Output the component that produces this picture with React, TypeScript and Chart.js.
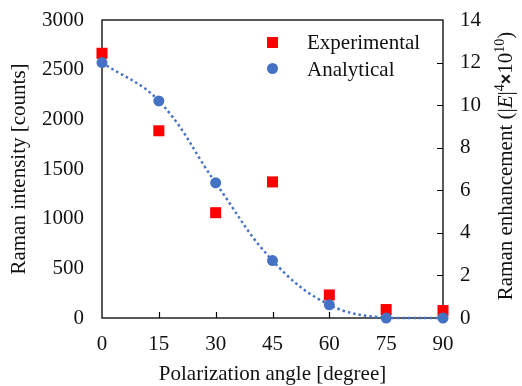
import React, { useEffect, useRef } from 'react';
import { Chart, registerables } from 'chart.js';

Chart.register(...registerables);

const angles = [0, 15, 30, 45, 60, 75, 90];
const experimental = [2665, 1885, 1060, 1370, 232, 85, 75];
const analytical = [12.0, 10.2, 6.35, 2.7, 0.62, 0.0, 0.0];
const xTickValues = [0, 15, 30, 45, 60, 75, 90];
const leftTickValues = [0, 500, 1000, 1500, 2000, 2500, 3000];
const rightTickValues = [0, 2, 4, 6, 8, 10, 12, 14];

const xTitle = 'Polarization angle [degree]';
const leftTitle = 'Raman intensity [counts]';
const legendLabels = ['Experimental', 'Analytical'];

const FONT = "'Liberation Serif', 'Times New Roman', serif";
const RED = '#ff0000';
const BLUE = '#4472c4';
const TEXT = '#111111';
const FS = 21;

const framePlugin = {
  id: 'frame',
  beforeDatasetsDraw(chart: any) {
    const { ctx, chartArea } = chart;
    const { left, right, top, bottom } = chartArea;
    ctx.save();
    ctx.strokeStyle = '#000';
    ctx.lineWidth = 1.3;
    ctx.strokeRect(left, top, right - left, bottom - top);
    const xs = chart.scales.x;
    ctx.beginPath();
    xTickValues.forEach((v) => {
      if (v === 0 || v === 90) return;
      const px = Math.round(xs.getPixelForValue(v)) + 0.5;
      ctx.moveTo(px, bottom);
      ctx.lineTo(px, bottom - 6);
    });
    const ys = chart.scales.y1;
    rightTickValues.forEach((v) => {
      if (v === 0 || v === 14) return;
      const py = Math.round(ys.getPixelForValue(v)) + 0.5;
      ctx.moveTo(right, py);
      ctx.lineTo(right - 6, py);
    });
    ctx.lineWidth = 1.2;
    ctx.stroke();
    ctx.restore();
  },
  afterDraw(chart: any) {
    const { ctx } = chart;
    ctx.save();
    ctx.fillStyle = RED;
    ctx.fillRect(267, 37, 11, 11);
    ctx.fillStyle = BLUE;
    ctx.beginPath();
    ctx.arc(272.5, 68.5, 5.5, 0, Math.PI * 2);
    ctx.fill();
    ctx.fillStyle = TEXT;
    ctx.font = `${FS}px ${FONT}`;
    ctx.textBaseline = 'alphabetic';
    ctx.textAlign = 'left';
    ctx.fillText(legendLabels[0], 307, 49);
    ctx.fillText(legendLabels[1], 307, 76);

    const segs = [
      { t: 'Raman enhancement (|', f: `${FS}px ${FONT}`, dy: 0 },
      { t: 'E', f: `italic ${FS}px ${FONT}`, dy: 0 },
      { t: '|', f: `${FS}px ${FONT}`, dy: 0 },
      { t: '4', f: `14px ${FONT}`, dy: -8 },
      { t: '×', f: `bold 18px 'Liberation Sans', sans-serif`, dy: 0 },
      { t: '10', f: `${FS}px ${FONT}`, dy: 0 },
      { t: '10', f: `14px ${FONT}`, dy: -8 },
      { t: ')', f: `${FS}px ${FONT}`, dy: 0 },
    ];
    let total = 0;
    const widths = segs.map((s) => {
      ctx.font = s.f;
      const w = ctx.measureText(s.t).width;
      total += w;
      return w;
    });
    ctx.translate(512, 166);
    ctx.rotate(-Math.PI / 2);
    let x = -total / 2;
    segs.forEach((s, i) => {
      ctx.font = s.f;
      ctx.fillText(s.t, x, s.dy);
      x += widths[i];
    });
    ctx.restore();
  },
};

export default function App() {
  const ref = useRef<HTMLCanvasElement | null>(null);

  useEffect(() => {
    if (!ref.current) return;
    const tickFont = { family: FONT, size: FS };
    const plain = (v: any) => String(v);
    const noPad = (s: any) => {
      s.paddingTop = 0;
      s.paddingBottom = 0;
      s.paddingLeft = 0;
      s.paddingRight = 0;
    };
    const chart = new Chart(ref.current, {
      type: 'line',
      data: {
        datasets: [
          {
            label: legendLabels[1],
            data: angles.map((a, i) => ({ x: a, y: analytical[i] })),
            yAxisID: 'y1',
            borderColor: BLUE,
            backgroundColor: BLUE,
            borderWidth: 2.5,
            borderDash: [2.5, 3],
            tension: 0.4,
            pointStyle: 'circle',
            pointRadius: 5.5,
            pointBorderWidth: 0,
            pointBackgroundColor: BLUE,
            clip: false,
          } as any,
          {
            label: legendLabels[0],
            data: angles.map((a, i) => ({ x: a, y: experimental[i] })),
            yAxisID: 'y',
            showLine: false,
            pointStyle: 'rect',
            pointRadius: 7.8,
            pointBorderWidth: 0,
            pointBackgroundColor: RED,
            borderColor: RED,
            backgroundColor: RED,
            clip: false,
          } as any,
        ],
      },
      options: {
        animation: false,
        responsive: false,
        maintainAspectRatio: false,
        layout: { padding: { top: 20, left: 0, right: 0, bottom: 0 } },
        plugins: { legend: { display: false }, tooltip: { enabled: false } },
        scales: {
          x: {
            type: 'linear',
            min: 0,
            max: 90,
            afterBuildTicks: (s: any) => {
              s.ticks = xTickValues.map((v) => ({ value: v }));
            },
            afterFit: (s: any) => {
              s.height = 68;
              noPad(s);
            },
            grid: { display: false, drawTicks: false },
            border: { display: false },
            ticks: { font: tickFont, color: TEXT, padding: 14, maxRotation: 0, callback: plain },
            title: {
              display: true,
              text: xTitle,
              font: { family: FONT, size: FS },
              color: TEXT,
              padding: { top: 0, bottom: -1 },
            },
          },
          y: {
            type: 'linear',
            position: 'left',
            min: 0,
            max: 3000,
            afterBuildTicks: (s: any) => {
              s.ticks = leftTickValues.map((v) => ({ value: v }));
            },
            afterFit: (s: any) => {
              s.width = 102;
              noPad(s);
            },
            grid: { display: false, drawTicks: false },
            border: { display: false },
            ticks: { font: tickFont, color: TEXT, padding: 18, callback: plain },
            title: {
              display: true,
              text: leftTitle,
              font: { family: FONT, size: FS },
              color: TEXT,
              padding: { top: 7, bottom: 0 },
            },
          },
          y1: {
            type: 'linear',
            position: 'right',
            min: 0,
            max: 14,
            afterBuildTicks: (s: any) => {
              s.ticks = rightTickValues.map((v) => ({ value: v }));
            },
            afterFit: (s: any) => {
              s.width = 79;
              noPad(s);
            },
            grid: { display: false, drawTicks: false },
            border: { display: false },
            ticks: { font: tickFont, color: TEXT, padding: 17, callback: plain },
          },
        },
      } as any,
      plugins: [framePlugin],
    });
    return () => chart.destroy();
  }, []);

  return (
    <div style={{ position: 'absolute', left: 0, top: 0, width: 522, height: 386, background: '#fff' }}>
      <canvas ref={ref} width={522} height={386} style={{ width: 522, height: 386 }} />
    </div>
  );
}
